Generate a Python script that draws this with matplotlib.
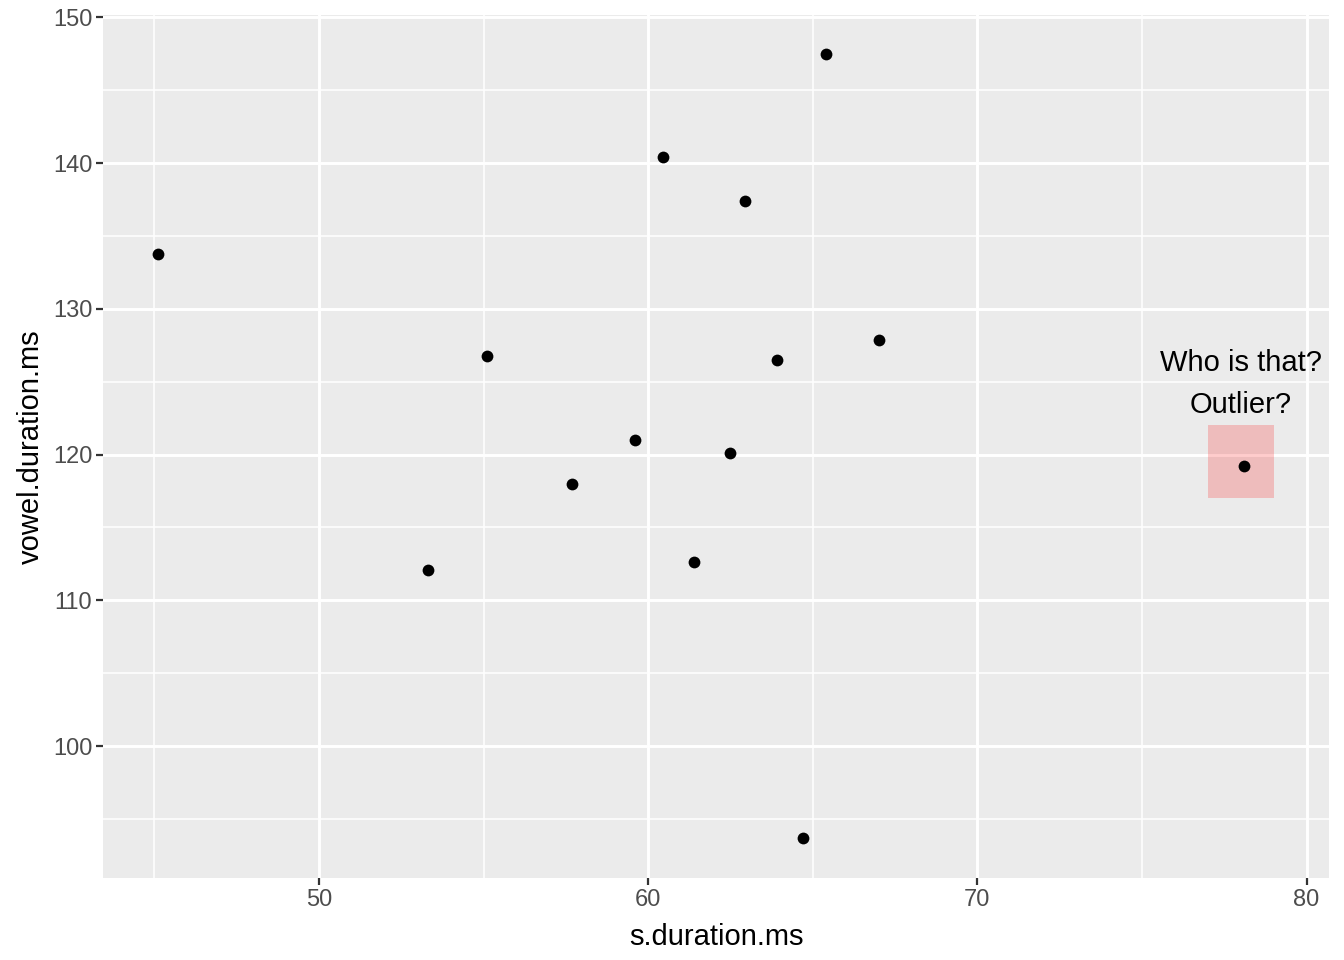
import matplotlib
matplotlib.use("Agg")
import matplotlib.pyplot as plt
import numpy as np

# data
s_duration_ms = [45.1, 55.1, 53.3, 57.7, 59.6, 60.45, 61.4, 62.5, 62.95, 63.9, 65.4, 64.7, 67.0, 78.1]
vowel_duration_ms = [133.8, 126.8, 112.1, 118.0, 121.0, 140.4, 112.6, 120.1, 137.4, 126.5, 147.5, 93.7, 127.9, 119.2]

x_major = [50, 60, 70, 80]
x_minor = [45, 55, 65, 75]
y_major = [100, 110, 120, 130, 140, 150]
y_minor = [95, 105, 115, 125, 135, 145]

# outlier box and label
rect_x = (77, 79)
rect_y = (117, 122)
label_xy = (78, 124.85)
label_text = "Who is that?\nOutlier?"

plt.rcParams['font.family'] = ['Liberation Sans', 'DejaVu Sans']

fig = plt.figure(figsize=(13.44, 9.6), dpi=100)
ax = fig.add_axes([0.0769, 0.0857, 0.9119, 0.8982])
ax.set_facecolor('#EBEBEB')

# grid ggplot style
for v in x_minor:
    ax.axvline(v, color='white', lw=1.1, zorder=0)
for v in y_minor:
    ax.axhline(v, color='white', lw=1.1, zorder=0)
for v in x_major:
    ax.axvline(v, color='white', lw=2.1, zorder=0)
for v in y_major:
    ax.axhline(v, color='white', lw=2.1, zorder=0)

ax.fill_between(rect_x, rect_y[0], rect_y[1], color='red', alpha=0.2, lw=0, zorder=1)
ax.scatter(s_duration_ms, vowel_duration_ms, s=72, color='black', lw=0, zorder=3)
ax.text(label_xy[0], label_xy[1], label_text, ha='center', va='center',
        fontsize=21, color='black', linespacing=1.62, zorder=4)

ax.set_xlim(43.45, 80.68)
ax.set_ylim(90.96, 150.14)
ax.set_xticks(x_major)
ax.set_yticks(y_major)
ax.tick_params(axis='both', length=5, width=1.6, color='#333333',
               labelsize=17, labelcolor='#4D4D4D', pad=3)
for sp in ax.spines.values():
    sp.set_visible(False)

ax.set_xlabel('s.duration.ms', fontsize=21, color='black', labelpad=9)
ax.set_ylabel('vowel.duration.ms', fontsize=21, color='black', labelpad=6)

fig.savefig('out.png', dpi=100)
